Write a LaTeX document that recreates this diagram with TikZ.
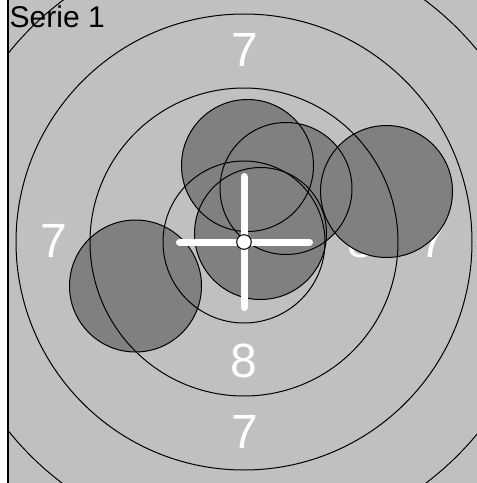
\documentclass[tikz,border=0pt]{standalone}
\usepackage{fontspec}
\setmainfont{Liberation Sans}
\usepackage{tikz}
\definecolor{targetgray}{RGB}{192,192,192}
\definecolor{shotgray}{RGB}{128,128,128}

\begin{document}
\begin{tikzpicture}[x=1pt, y=-1pt, every node/.style={inner sep=0pt}]
  \useasboundingbox (0,0) rectangle (477,483);
  \coordinate (ctr) at (244,242);
  \begin{scope}
    \clip (9,0) rectangle (477,483);
    \fill[targetgray] (9,0) rectangle (477,483);
    % ring numbers
    \foreach \n/\x/\y/\v in {t7/245/50/7, l7/54/241/7, r7/433/241/7, r8/361/241/8, b8/244/361/8, b7/245/432/7}
      \node[white, font=\fontsize{48}{48}\selectfont] (lbl\n) at (\x,\y) {\v};
    % shots
    \foreach \x/\y in {135.5/286, 247.5/165.5, 386.5/191.5, 286/188.5, 260.5/233.5}
      \fill[shotgray] (\x,\y) circle (66pt);
    \foreach \r in {81,154,228,302}
      \draw[line width=1pt] (ctr) circle (\r pt);
    \foreach \x/\y in {135.5/286, 247.5/165.5, 386.5/191.5, 286/188.5, 260.5/233.5}
      \draw[line width=1pt] (\x,\y) circle (66pt);
  \end{scope}
  % cross
  \coordinate (crossT) at (244,176.5);
  \coordinate (crossB) at (244,307.5);
  \coordinate (crossL) at (179.5,242);
  \coordinate (crossR) at (309.5,242);
  \draw[white, line width=7pt, line cap=round] (crossT) -- (crossB);
  \draw[white, line width=7pt, line cap=round] (crossL) -- (crossR);
  \draw[fill=white, line width=1pt] (ctr) circle (7.3pt);
  \node[anchor=base west, font=\fontsize{30}{30}\selectfont] (title) at (9.5,27) {Serie 1};
  \draw[line width=2pt] (8,0) -- (8,483);
\end{tikzpicture}
\end{document}
